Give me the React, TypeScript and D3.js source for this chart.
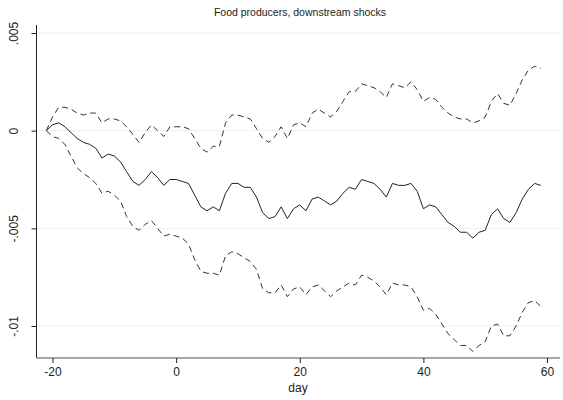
import { useEffect, useRef } from 'react';
import * as d3 from 'd3';

const days = d3.range(-21, 60);

const meanEffect = [
  0, 0.0003, 0.0004, 0.0002, -0.0001, -0.0004, -0.0006, -0.0007, -0.0009, -0.0014,
  -0.0012, -0.0013, -0.0016, -0.0021, -0.0026, -0.0028, -0.0025, -0.0021, -0.0024, -0.0028,
  -0.0025, -0.0025, -0.0026, -0.0027, -0.0033, -0.0039, -0.0041, -0.0039, -0.0041, -0.0032,
  -0.0027, -0.0027, -0.0029, -0.0029, -0.0034, -0.0042, -0.0045, -0.0044, -0.0039, -0.0045,
  -0.0040, -0.0038, -0.0041, -0.0035, -0.0034, -0.0036, -0.0038, -0.0036, -0.0032, -0.0029,
  -0.0030, -0.0025, -0.0026, -0.0027, -0.0030, -0.0034, -0.0027, -0.0028, -0.0028, -0.0027,
  -0.0031, -0.0040, -0.0038, -0.0039, -0.0043, -0.0047, -0.0049, -0.0052, -0.0052, -0.0055,
  -0.0052, -0.0051, -0.0043, -0.0040, -0.0045, -0.0047, -0.0042, -0.0035, -0.0030, -0.0027,
  -0.0028,
];

const upperBound = [
  0, 0.0007, 0.0012, 0.0012, 0.0011, 0.0009, 0.0008, 0.0009, 0.0009, 0.0004,
  0.0006, 0.0006, 0.0005, 0.0002, -0.0002, -0.0006, -0.0001, 0.0003, 0.0000, -0.0003,
  0.0002, 0.0002, 0.0002, 0.0001, -0.0004, -0.0009, -0.0011, -0.0008, -0.0008, 0.0004,
  0.0008, 0.0008, 0.0007, 0.0006, 0.0001, -0.0004, -0.0006, -0.0003, 0.0002, -0.0004,
  0.0003, 0.0004, 0.0002, 0.0009, 0.0011, 0.0009, 0.0007, 0.0010, 0.0015, 0.0020,
  0.0020, 0.0024, 0.0023, 0.0022, 0.0020, 0.0017, 0.0024, 0.0023, 0.0022, 0.0025,
  0.0021, 0.0015, 0.0017, 0.0016, 0.0012, 0.0009, 0.0007, 0.0006, 0.0006, 0.0004,
  0.0005, 0.0007, 0.0015, 0.0019, 0.0014, 0.0013, 0.0019, 0.0026, 0.0031, 0.0033,
  0.0032,
];

const lowerBound = [
  0, -0.0003, -0.0004, -0.0007, -0.0013, -0.0019, -0.0022, -0.0024, -0.0027, -0.0032,
  -0.0031, -0.0033, -0.0036, -0.0044, -0.0049, -0.0051, -0.0048, -0.0046, -0.0050, -0.0054,
  -0.0053, -0.0054, -0.0055, -0.0058, -0.0066, -0.0072, -0.0073, -0.0073, -0.0074, -0.0064,
  -0.0062, -0.0063, -0.0065, -0.0067, -0.0071, -0.0081, -0.0083, -0.0083, -0.0079, -0.0085,
  -0.0081, -0.0080, -0.0084, -0.0080, -0.0079, -0.0082, -0.0085, -0.0082, -0.0080, -0.0078,
  -0.0079, -0.0074, -0.0075, -0.0077, -0.0080, -0.0084, -0.0078, -0.0079, -0.0079, -0.0080,
  -0.0085, -0.0092, -0.0091, -0.0094, -0.0099, -0.0104, -0.0107, -0.0110, -0.0110, -0.0113,
  -0.0110, -0.0108, -0.0100, -0.0099, -0.0105, -0.0105, -0.0100, -0.0093, -0.0088, -0.0087,
  -0.0090,
];

const xTicks = [-20, 0, 20, 40, 60];
const xTickLabels = ['-20', '0', '20', '40', '60'];
const yTicks = [0.005, 0, -0.005, -0.01];
const yTickLabels = ['.005', '0', '-.005', '-.01'];

export default function App() {
  const svgRef = useRef<SVGSVGElement>(null);

  useEffect(() => {
    if (!svgRef.current) return;
    const left = 36.5;
    const bottom = 358;
    const font = 'Arial, "Liberation Sans", sans-serif';

    const svg = d3.select(svgRef.current);
    svg.selectAll('*').remove();

    const x = d3.scaleLinear().domain([-20, 60]).range([52.5, 547]);
    const y = d3.scaleLinear().domain([0.005, -0.01]).range([33, 326]);

    // grid
    svg.append('g')
      .selectAll('line')
      .data(yTicks)
      .join('line')
      .attr('x1', left)
      .attr('x2', 560)
      .attr('y1', d => y(d))
      .attr('y2', d => y(d))
      .attr('stroke', '#eaf0f0')
      .attr('stroke-width', 1);

    // axes
    const yAxis = svg.append('g')
      .attr('transform', `translate(${left},0)`)
      .call(d3.axisLeft(y).tickValues(yTicks).tickSize(5).tickFormat((_, i) => yTickLabels[i]));
    yAxis.select('.domain').attr('d', `M0,25V${bottom}`).attr('stroke', '#222');
    yAxis.selectAll('.tick line').attr('stroke', '#222');
    yAxis.selectAll('.tick text')
      .attr('x', 0)
      .attr('y', 0)
      .attr('dy', 0)
      .attr('transform', 'translate(-19,0) rotate(-90)')
      .attr('text-anchor', 'middle')
      .style('font-family', font)
      .style('font-size', '12px')
      .style('fill', '#222');

    const xAxis = svg.append('g')
      .attr('transform', `translate(0,${bottom})`)
      .call(d3.axisBottom(x).tickValues(xTicks).tickSize(5).tickFormat((_, i) => xTickLabels[i]));
    xAxis.select('.domain').attr('d', `M${left},0H560`).attr('stroke', '#888').attr('stroke-width', 1.5);
    xAxis.selectAll('.tick line').attr('stroke', '#222');
    xAxis.selectAll('.tick text')
      .attr('y', 9)
      .style('font-family', font)
      .style('font-size', '12px')
      .style('fill', '#222');

    svg.append('text')
      .attr('x', 298)
      .attr('y', 392)
      .attr('text-anchor', 'middle')
      .style('font-family', font)
      .style('font-size', '12px')
      .style('fill', '#222')
      .text('day');

    svg.append('text')
      .attr('x', 300)
      .attr('y', 16)
      .attr('text-anchor', 'middle')
      .style('font-family', font)
      .style('font-size', '10.5px')
      .style('fill', '#222')
      .text('Food producers, downstream shocks');

    const line = (vals: number[]) =>
      d3.line<number>().x((_, i) => x(days[i])).y(d => y(d))(vals) || '';

    svg.append('path')
      .attr('d', line(upperBound))
      .attr('fill', 'none')
      .attr('stroke', '#333')
      .attr('stroke-width', 1)
      .attr('stroke-dasharray', '6,4');
    svg.append('path')
      .attr('d', line(lowerBound))
      .attr('fill', 'none')
      .attr('stroke', '#333')
      .attr('stroke-width', 1)
      .attr('stroke-dasharray', '6,4');
    svg.append('path')
      .attr('d', line(meanEffect))
      .attr('fill', 'none')
      .attr('stroke', '#222')
      .attr('stroke-width', 1);
  }, []);

  return (
    <div style={{ position: 'absolute', left: 0, top: 0, background: '#fff' }}>
      <svg ref={svgRef} width={563} height={400}></svg>
    </div>
  );
}
